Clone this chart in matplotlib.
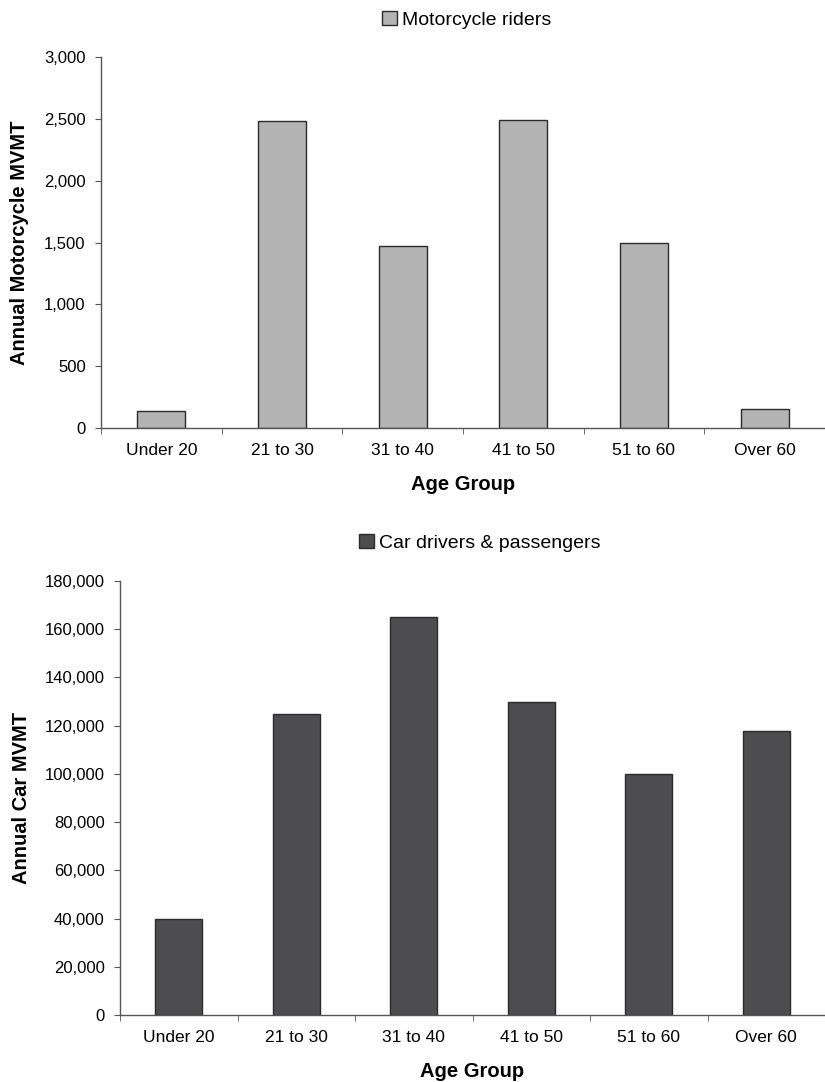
import matplotlib
matplotlib.use("Agg")
import matplotlib.pyplot as plt
from matplotlib.ticker import FuncFormatter, FixedLocator
import numpy as np

plt.rcParams['font.family'] = ['Liberation Sans', 'DejaVu Sans']

# data
age_groups = ["Under 20", "21 to 30", "31 to 40", "41 to 50", "51 to 60", "Over 60"]
moto_mvmt = [140, 2480, 1475, 2490, 1500, 155]
car_mvmt = [40000, 125000, 165000, 130000, 100000, 118000]

fig = plt.figure(figsize=(8.25, 10.82), dpi=100)

comma = FuncFormatter(lambda v, p: "{:,.0f}".format(v))


def style_axes(ax, ylim, ystep, xright):
    x = np.arange(len(age_groups))
    ax.set_xlim(-0.5, xright)
    ax.set_ylim(0, ylim)
    ax.yaxis.set_major_locator(FixedLocator(np.arange(0, ylim + 1, ystep)))
    ax.yaxis.set_major_formatter(comma)
    # category labels centred, ticks on the boundaries
    ax.set_xticks(x)
    ax.set_xticklabels(age_groups, fontsize=12.5)
    ax.set_xticks(np.arange(-0.5, len(age_groups)), minor=True)
    ax.tick_params(axis='x', which='major', length=0, pad=11)
    ax.tick_params(axis='x', which='minor', length=4, color='#555555')
    ax.tick_params(axis='y', length=4, pad=7, labelsize=12, color='#555555')
    for s in ['top', 'right']:
        ax.spines[s].set_visible(False)
    for s in ['left', 'bottom']:
        ax.spines[s].set_color('#555555')
        ax.spines[s].set_linewidth(1.0)
    ax.set_xlabel("Age Group", fontsize=14.5, fontweight='bold', labelpad=12)


# top panel: motorcycle riders
ax1 = fig.add_axes([0.1224, 0.6044, 0.8776, 0.3429])
ax1.bar(np.arange(len(age_groups)), moto_mvmt, width=0.4, color='#b3b3b3',
        edgecolor='#2b2b2b', linewidth=1.0, label="Motorcycle riders")
style_axes(ax1, 3000, 500, -0.5 + 724 / 121.5)
ax1.set_ylabel("Annual Motorcycle MVMT", fontsize=14.5, fontweight='bold', labelpad=11)
ax1.legend(loc='center', bbox_to_anchor=(0.505, 1.1), frameon=False, fontsize=14,
           handlelength=0.75, handleheight=0.75, handletextpad=0.25)

# bottom panel: car drivers & passengers
ax2 = fig.add_axes([0.1455, 0.0619, 0.8545, 0.4011])
ax2.bar(np.arange(len(age_groups)), car_mvmt, width=0.4, color='#4d4d4f',
        edgecolor='#2b2b2b', linewidth=1.0, label="Car drivers & passengers")
style_axes(ax2, 180000, 20000, -0.5 + 705 / 118.2)
ax2.set_ylabel("Annual Car MVMT", fontsize=14.5, fontweight='bold', labelpad=10)
ax2.legend(loc='center', bbox_to_anchor=(0.51, 1.088), frameon=False, fontsize=14,
           handlelength=0.75, handleheight=0.75, handletextpad=0.25)

fig.savefig("out.png", dpi=100)
